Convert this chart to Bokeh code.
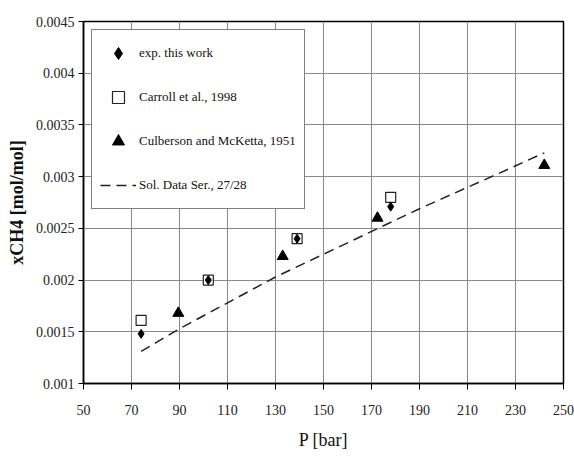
import math
from bokeh.plotting import figure
from bokeh.models import (FixedTicker, CustomJSTickFormatter,
                          Legend, LegendItem, Range1d)
from bokeh.embed import file_html
from bokeh.resources import INLINE

# ---- data ----
exp_p = [74, 102, 139, 178]
exp_x = [0.00148, 0.0020, 0.0024, 0.00271]

carroll_p = [74, 102, 139, 178]
carroll_x = [0.00161, 0.0020, 0.0024, 0.0028]

culb_p = [89.5, 133, 172.5, 242]
culb_x = [0.00168, 0.00223, 0.0026, 0.00311]

sds_p = [74, 90, 130, 190, 221, 242]
sds_x = [0.00131, 0.00153, 0.00203, 0.00269, 0.00301, 0.00323]

x_ticks = [50, 70, 90, 110, 130, 150, 170, 190, 210, 230, 250]
y_ticks = [0.001, 0.0015, 0.002, 0.0025, 0.003, 0.0035, 0.004, 0.0045]

SERIF = "serif"

p = figure(width=574, height=458, output_backend="svg", toolbar_location=None,
           x_range=Range1d(50, 250), y_range=Range1d(0.001, 0.0045),
           min_border_left=83, min_border_right=11, min_border_top=21,
           min_border_bottom=75)
p.background_fill_color = "white"
p.border_fill_color = "white"
p.outline_line_color = "black"
p.outline_line_width = 1.5

for ax in (p.xaxis[0], p.yaxis[0]):
    ax.axis_line_color = "black"
    ax.axis_line_width = 1.5
    ax.major_tick_line_color = "black"
    ax.major_tick_line_width = 1
    ax.minor_tick_line_color = None
    ax.major_label_text_font = SERIF
    ax.major_label_text_font_size = "14px"
    ax.major_label_text_color = "#222222"

p.xaxis.ticker = FixedTicker(ticks=x_ticks)
p.yaxis.ticker = FixedTicker(ticks=y_ticks)
p.yaxis.formatter = CustomJSTickFormatter(code="return tick.toFixed(4).replace(/0+$/, '');")
p.xaxis.major_tick_out = 6
p.xaxis.major_tick_in = 0
p.xaxis.major_label_standoff = 15
p.yaxis.major_tick_out = 5
p.yaxis.major_tick_in = 0
p.yaxis.major_label_standoff = 4

p.xaxis.axis_label = "P [bar]"
p.xaxis.axis_label_text_font = SERIF
p.xaxis.axis_label_text_font_size = "18px"
p.xaxis.axis_label_text_font_style = "normal"
p.xaxis.axis_label_text_color = "#111111"
p.xaxis.axis_label_standoff = 12

p.yaxis.axis_label = "xCH4 [mol/mol]"
p.yaxis.axis_label_text_font = SERIF
p.yaxis.axis_label_text_font_size = "18px"
p.yaxis.axis_label_text_font_style = "bold"
p.yaxis.axis_label_text_color = "#111111"
p.yaxis.axis_label_standoff = 6

p.xgrid.ticker = FixedTicker(ticks=x_ticks)
p.ygrid.ticker = FixedTicker(ticks=y_ticks)
p.grid.grid_line_color = "#8a8a8a"
p.grid.grid_line_width = 1

# ---- series ----
r_line = p.line(sds_p, sds_x, line_color="#222222", line_width=1.5, line_dash="10 6")
r_sq = p.scatter(carroll_p, carroll_x, marker="square", size=10,
                 fill_color="white", line_color="#222222", line_width=1.2)
r_dia = p.scatter(exp_p, exp_x, marker="diamond", size=9,
                  fill_color="black", line_color="black")
r_tri = p.scatter(culb_p, culb_x, marker="triangle", size=11,
                  fill_color="black", line_color="black")

legend = Legend(items=[
    LegendItem(label="exp. this work", renderers=[r_dia]),
    LegendItem(label="Carroll et al., 1998", renderers=[r_sq]),
    LegendItem(label="Culberson and McKetta, 1951", renderers=[r_tri]),
    LegendItem(label="Sol. Data Ser., 27/28", renderers=[r_line]),
], location="top_left")
legend.margin = 8
legend.padding = 8
legend.spacing = 14
legend.glyph_height = 30
legend.glyph_width = 36
legend.label_standoff = 3
legend.label_text_font = SERIF
legend.label_text_font_size = "13px"
legend.label_text_color = "#111111"
legend.border_line_color = "black"
legend.border_line_width = 1.2
legend.background_fill_color = "white"
legend.background_fill_alpha = 1.0
p.add_layout(legend)

open("out.html", "w").write(file_html(p, INLINE))
